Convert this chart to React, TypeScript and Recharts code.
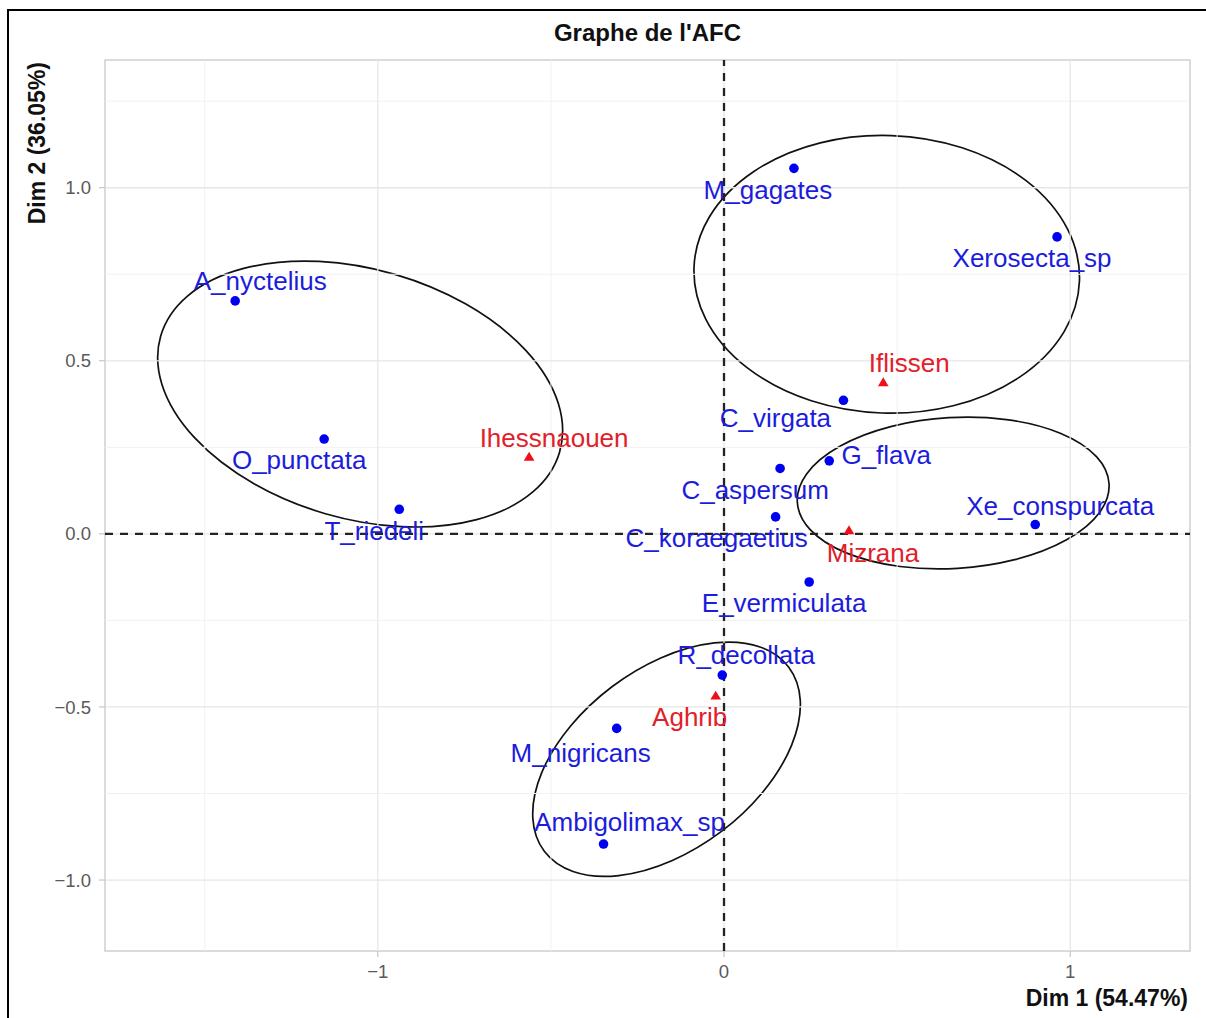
import React from "react"
import { ScatterChart, Scatter, XAxis, YAxis, ReferenceLine, ReferenceArea } from "recharts"

// species (columns of the CA)
const speciesNames = [
  "A_nyctelius", "O_punctata", "T_riedeli", "M_gagates", "Xerosecta_sp", "C_virgata", "G_flava",
  "C_aspersum", "C_koraegaetius", "Xe_conspurcata", "E_vermiculata", "R_decollata", "M_nigricans", "Ambigolimax_sp",
]
const speciesDim1 = [-1.412, -1.155, -0.938, 0.202, 0.962, 0.345, 0.304, 0.162, 0.149, 0.899, 0.246, -0.005, -0.31, -0.348]
const speciesDim2 = [0.673, 0.274, 0.071, 1.056, 0.858, 0.386, 0.211, 0.189, 0.049, 0.027, -0.139, -0.408, -0.562, -0.896]

// sites (rows of the CA)
const siteNames = ["Ihessnaouen", "Iflissen", "Mizrana", "Aghrib"]
const siteDim1 = [-0.563, 0.46, 0.361, -0.024]
const siteDim2 = [0.221, 0.436, 0.009, -0.469]

// group ellipses: centre, semi axes, rotation (deg)
const ellipseCx = [-1.051, 0.47, 0.662, -0.166]
const ellipseCy = [0.404, 0.75, 0.118, -0.651]
const ellipseA = [0.6, 0.557, 0.451, 0.442]
const ellipseB = [0.36, 0.401, 0.218, 0.262]
const ellipseAngle = [-16.2, -2, 3.4, 37]

const xTicks = [-1, 0, 1]
const yTicks = [-1, -0.5, 0, 0.5, 1]
const xMinor = [-1.5, -0.5, 0.5]
const yMinor = [-0.75, -0.25, 0.25, 0.75, 1.25]
const xDomain = [-1.788, 1.346]
const yDomain = [-1.205, 1.369]

// label nudges in px, [dx, dy]
const speciesLabelShift = [
  [25, -20], [-25, 21], [-25, 22], [-26, 22], [-25, 21], [-68, 18], [57, -6],
  [-25, 22], [-59, 21], [25, -19], [-25, 21], [24, -20], [-36, 25], [26, -22],
]
const siteLabelShift = [[25, -19], [26, -20], [24, 22], [-26, 21]]

const FONT = '"Liberation Sans", Arial, Helvetica, sans-serif'
const BLUE = "#0000f0"
const BLUE_TXT = "#1c1cdc"
const RED = "#ee1018"
const RED_TXT = "#e2202a"

const speciesData = speciesNames.map((name, i) => ({ name, i, x: speciesDim1[i], y: speciesDim2[i] }))
const siteData = siteNames.map((name, i) => ({ name, i, x: siteDim1[i], y: siteDim2[i] }))

const minus = (s: string) => s.replace("-", "\u2212")

function SpeciesPoint(props: any) {
  const { cx, cy, payload } = props
  const [dx, dy] = speciesLabelShift[payload.i]
  return (
    <g>
      <circle cx={cx} cy={cy} r={4.8} fill={BLUE} />
      <text x={cx + dx} y={cy + dy} textAnchor="middle" dominantBaseline="central"
        fontFamily={FONT} fontSize={26} fill={BLUE_TXT}>{payload.name}</text>
    </g>
  )
}

function SitePoint(props: any) {
  const { cx, cy, payload } = props
  const [dx, dy] = siteLabelShift[payload.i]
  const s = 5.6
  return (
    <g>
      <polygon points={`${cx},${cy - s} ${cx - s * 0.95},${cy + s * 0.6} ${cx + s * 0.95},${cy + s * 0.6}`} fill={RED} />
      <text x={cx + dx} y={cy + dy} textAnchor="middle" dominantBaseline="central"
        fontFamily={FONT} fontSize={26} fill={RED_TXT}>{payload.name}</text>
    </g>
  )
}

function makeEllipse(angle: number) {
  return (props: any) => {
    const { x, y, width, height } = props
    const cx = x + width / 2
    const cy = y + height / 2
    return (
      <ellipse cx={cx} cy={cy} rx={width / 2} ry={height / 2} fill="none" stroke="#111"
        strokeWidth={1.7} transform={`rotate(${-angle} ${cx} ${cy})`} />
    )
  }
}

export default function App() {
  return (
    <div style={{ position: "absolute", left: 0, top: 0, width: 1206, height: 1018, background: "#fff", fontFamily: FONT }}>
      <div style={{ position: "absolute", left: 7, top: 9, width: 1199, height: 1009, borderLeft: "2.5px solid #000", borderTop: "2.5px solid #000" }} />
      <div style={{ position: "absolute", left: 105, top: 21, width: 1085, textAlign: "center", fontSize: 24, lineHeight: "24px", fontWeight: "bold", color: "#111" }}>
        Graphe de l'AFC
      </div>
      <div style={{ position: "absolute", left: 0, top: 0 }}>
        <ScatterChart width={1206} height={1018} margin={{ top: 60, right: 16, bottom: 0, left: 0 }}>
          <XAxis type="number" dataKey="x" domain={xDomain} ticks={xTicks} allowDataOverflow
            axisLine={false} tickSize={6} tickMargin={8} height={67}
            tickLine={{ stroke: "#bbb" }}
            tick={{ fill: "#5a5a5a", fontSize: 18.5, fontFamily: FONT }}
            tickFormatter={(v: number) => minus(String(v))}
            label={{
              content: () => (
                <text x={1188} y={1006} textAnchor="end" fontFamily={FONT} fontSize={23} fontWeight="bold" fill="#111">
                  Dim 1 (54.47%)
                </text>
              ),
            }} />
          <YAxis type="number" dataKey="y" domain={yDomain} ticks={yTicks} allowDataOverflow
            axisLine={false} tickSize={6} tickMargin={8} width={105}
            tickLine={{ stroke: "#bbb" }}
            tick={{ fill: "#5a5a5a", fontSize: 18.5, fontFamily: FONT }}
            tickFormatter={(v: number) => minus(v.toFixed(1))}
            label={{
              content: () => (
                <text x={45} y={62} textAnchor="end" transform="rotate(-90 45 62)" fontFamily={FONT} fontSize={23} fontWeight="bold" fill="#111">
                  Dim 2 (36.05%)
                </text>
              ),
            }} />

          {xMinor.map((v) => <ReferenceLine key={"xm" + v} x={v} stroke="#f1f1f1" strokeWidth={1} />)}
          {yMinor.map((v) => <ReferenceLine key={"ym" + v} y={v} stroke="#f1f1f1" strokeWidth={1} />)}
          {xTicks.map((v) => <ReferenceLine key={"xM" + v} x={v} stroke="#e6e6e6" strokeWidth={1.3} />)}
          {yTicks.map((v) => <ReferenceLine key={"yM" + v} y={v} stroke="#e6e6e6" strokeWidth={1.3} />)}
          <ReferenceArea x1={xDomain[0]} x2={xDomain[1]} y1={yDomain[0]} y2={yDomain[1]} fill="none" stroke="#cfcfcf" strokeWidth={1.5} ifOverflow="visible" />

          <ReferenceLine x={0} stroke="#222" strokeWidth={2.3} strokeDasharray="8 7" />
          <ReferenceLine y={0} stroke="#222" strokeWidth={2.3} strokeDasharray="8 7" />

          {ellipseCx.map((c, i) => (
            <ReferenceArea key={"el" + i} ifOverflow="visible"
              x1={c - ellipseA[i]} x2={c + ellipseA[i]}
              y1={ellipseCy[i] - ellipseB[i]} y2={ellipseCy[i] + ellipseB[i]}
              shape={makeEllipse(ellipseAngle[i])} />
          ))}

          <Scatter data={speciesData} shape={SpeciesPoint} isAnimationActive={false} />
          <Scatter data={siteData} shape={SitePoint} isAnimationActive={false} />
        </ScatterChart>
      </div>
    </div>
  )
}
